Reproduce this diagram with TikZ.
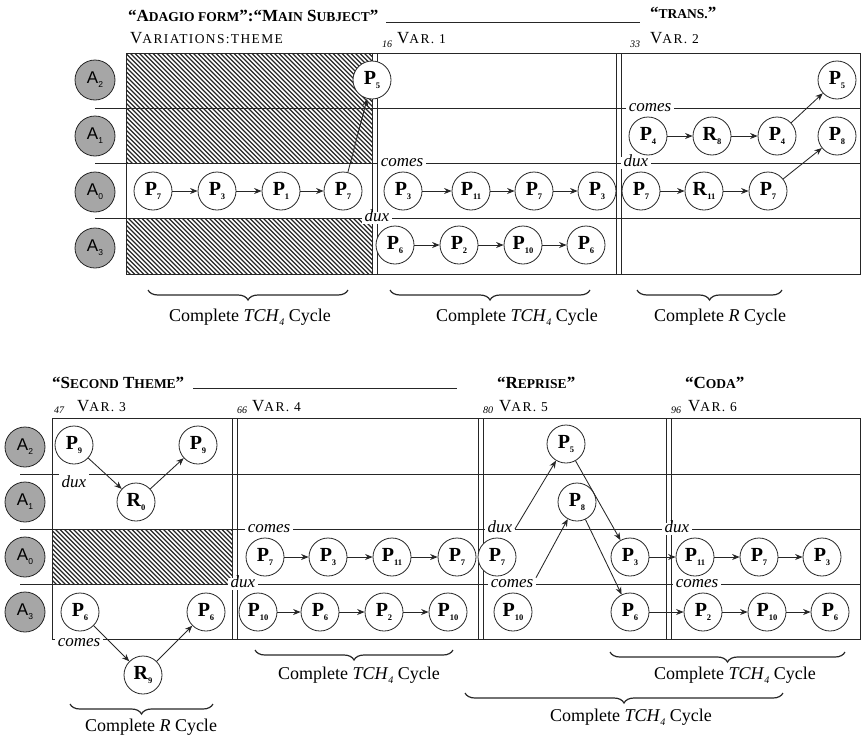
\documentclass[tikz,border=0pt]{standalone}
\usepackage{fontspec}
\setmainfont{Liberation Serif}
\newfontfamily\hdrfont{Liberation Serif}[LetterSpace=10]
\newfontfamily\asans{Liberation Sans}
\usetikzlibrary{arrows.meta,decorations.pathreplacing}
\newcommand\mkP[2]{\textbf{#1}\raisebox{-0.45ex}{\fontsize{8.5}{8.5}\selectfont\bfseries #2}}
\newcommand\mkA[1]{A\raisebox{-0.45ex}{\fontsize{8.5}{8.5}\selectfont #1}}
\newcommand\tchfour{\textit{TCH}\raisebox{-0.45ex}{\fontsize{10}{10}\selectfont\itshape 4}}
\newcommand\hB[1]{{\fontsize{17}{17}\selectfont #1}}
\newcommand\hS[1]{{\fontsize{13.5}{13.5}\selectfont #1}}
\tikzset{
  frame/.style={line width=0.9pt, draw=black!85},
  hatchl/.style={line width=1.1pt, draw=black!85},
  pn/.style={circle, draw=black!85, fill=white, line width=0.8pt, minimum size=38pt, inner sep=0pt, font=\fontsize{20}{20}\selectfont},
  an/.style={circle, draw=black!85, fill=gray!70, line width=0.8pt, minimum size=40pt, inner sep=0pt, font=\asans\fontsize{17}{17}\selectfont},
  lab/.style={fill=white, inner sep=2.5pt, text height=7pt, text depth=0pt, font=\itshape\fontsize{17}{17}\selectfont},
  arr/.style={-{Stealth[length=7.5pt,width=6pt]}, line width=0.85pt, draw=black!85},
  hdr/.style={anchor=base west, inner sep=0pt, font=\hdrfont\fontsize{17}{17}\selectfont},
  hdrb/.style={anchor=base west, inner sep=0pt, font=\bfseries\fontsize{17}{17}\selectfont},
  barno/.style={anchor=base west, inner sep=0pt, font=\itshape\fontsize{10}{10}\selectfont},
  cyc/.style={inner sep=0pt, font=\fontsize{18}{18}\selectfont},
  brc/.style={decorate, decoration={brace, amplitude=10pt, mirror}, line width=1.2pt, draw=black!85}
}
\begin{document}
\begin{tikzpicture}[x=1pt,y=-1pt]
\useasboundingbox (0,0) rectangle (861,739);
% ---------------- TOP SYSTEM ----------------
\begin{scope}
  \clip (126,53) rectangle (372,163);
  \foreach \i in {0,...,82} \draw[hatchl] ({13+4.5*\i},53) -- ++(130,130);
\end{scope}
\begin{scope}
  \clip (126,218) rectangle (372,274);
  \foreach \i in {0,...,70} \draw[hatchl] ({70+4.5*\i-5},218) -- ++(70,70);
\end{scope}
\draw[frame] (126,53) rectangle (860,274);
\foreach \y in {108,163,218} \draw[frame] (95,\y) -- (860,\y);
\foreach \x in {372,377,616,621} \draw[frame] (\x,53) -- (\x,274);
% headers
\node[hdrb] (h1) at (128,21) {“\hB{A}\hS{DAGIO FORM}”:“\hB{M}\hS{AIN} \hB{S}\hS{UBJECT}”};
\draw[frame] (386,22) -- (640,22);
\node[hdrb] (h2) at (650,18) {“\hS{TRANS.}”};
\node[hdr] (h3) at (130,43) {\hB{V}\hS{ARIATIONS:THEME}};
\node[barno] (n16) at (382,47) {16};
\node[hdr] (v1) at (397,43) {\hB{V}\hS{AR. 1}};
\node[barno] (n33) at (630,47) {33};
\node[hdr] (v2) at (650,43) {\hB{V}\hS{AR. 2}};
% line labels
\node[lab] (tc1) at (650,108) {comes};
\node[lab] (tc2) at (402,163) {comes};
\node[lab] (td1) at (636,163) {dux};
\node[lab] (td2) at (377,218) {dux};
% A circles
\node[an] (tA2) at (95,80) {\mkA{2}};
\node[an] (tA1) at (95,136) {\mkA{1}};
\node[an] (tA0) at (95,192) {\mkA{0}};
\node[an] (tA3) at (95,248) {\mkA{3}};
% nodes
\node[pn] (t5a) at (372,80) {\mkP{P}{5}};
\node[pn] (t7a) at (153,191) {\mkP{P}{7}};
\node[pn] (t3a) at (217,191) {\mkP{P}{3}};
\node[pn] (t1a) at (281,191) {\mkP{P}{1}};
\node[pn] (t7b) at (343,191) {\mkP{P}{7}};
\node[pn] (t3b) at (403,191) {\mkP{P}{3}};
\node[pn] (t11a) at (471,191) {\mkP{P}{11}};
\node[pn] (t7c) at (534,191) {\mkP{P}{7}};
\node[pn] (t3c) at (597,191) {\mkP{P}{3}};
\node[pn] (t7d) at (641,191) {\mkP{P}{7}};
\node[pn] (tr11) at (704,191) {\mkP{R}{11}};
\node[pn] (t7e) at (768,191) {\mkP{P}{7}};
\node[pn] (t4a) at (648,136) {\mkP{P}{4}};
\node[pn] (tr8) at (712,136) {\mkP{R}{8}};
\node[pn] (t4b) at (777,136) {\mkP{P}{4}};
\node[pn] (t8a) at (837,136) {\mkP{P}{8}};
\node[pn] (t5b) at (837,80) {\mkP{P}{5}};
\node[pn] (t6a) at (395,245) {\mkP{P}{6}};
\node[pn] (t2a) at (459,245) {\mkP{P}{2}};
\node[pn] (t10a) at (523,245) {\mkP{P}{10}};
\node[pn] (t6b) at (586,245) {\mkP{P}{6}};
% arrows
\draw[arr] (t7a) -- (t3a);
\draw[arr] (t3a) -- (t1a);
\draw[arr] (t1a) -- (t7b);
\draw[arr] (t7b) -- (t5a);
\draw[arr] (t3b) -- (t11a);
\draw[arr] (t11a) -- (t7c);
\draw[arr] (t7c) -- (t3c);
\draw[arr] (t7d) -- (tr11);
\draw[arr] (tr11) -- (t7e);
\draw[arr] (t7e) -- (t8a);
\draw[arr] (t4a) -- (tr8);
\draw[arr] (tr8) -- (t4b);
\draw[arr] (t4b) -- (t5b);
\draw[arr] (t6a) -- (t2a);
\draw[arr] (t2a) -- (t10a);
\draw[arr] (t10a) -- (t6b);
% braces
\draw[brc] (148,290) -- (348,290);
\node[cyc] (tb1) at (250,317) {Complete \tchfour{} Cycle};
\draw[brc] (390,290) -- (590,290);
\node[cyc] (tb2) at (517,317) {Complete \tchfour{} Cycle};
\draw[brc] (637,290) -- (782,290);
\node[cyc] (tb3) at (720,317) {Complete \textit{R} Cycle};
% ---------------- BOTTOM SYSTEM ----------------
\begin{scope}
  \clip (52,529) rectangle (232,584);
  \foreach \i in {0,...,55} \draw[hatchl] ({-8+4.5*\i},529) -- ++(70,70);
\end{scope}
\draw[frame] (52,418) rectangle (860,639);
\foreach \y in {474,529,584} \draw[frame] (20,\y) -- (860,\y);
\foreach \x in {232,237,478,483,666,671} \draw[frame] (\x,418) -- (\x,639);
% headers
\node[hdrb] (h4) at (52,388) {“\hB{S}\hS{ECOND} \hB{T}\hS{HEME}”};
\draw[frame] (193,388) -- (457,388);
\node[hdrb] (h5) at (497,388) {“\hB{R}\hS{EPRISE}”};
\node[hdrb] (h6) at (685,388) {“\hB{C}\hS{ODA}”};
\node[barno] (n47) at (54,413) {47};
\node[hdr] (v3) at (77,411) {\hB{V}\hS{AR. 3}};
\node[barno] (n66) at (237,413) {66};
\node[hdr] (v4) at (252,411) {\hB{V}\hS{AR. 4}};
\node[barno] (n80) at (483,413) {80};
\node[hdr] (v5) at (499,411) {\hB{V}\hS{AR. 5}};
\node[barno] (n96) at (671,413) {96};
\node[hdr] (v6) at (688,411) {\hB{V}\hS{AR. 6}};
% line labels
\node[lab, text height=12pt] (bd1) at (74,481) {dux};
\node[lab] (bc1) at (269,529) {comes};
\node[lab] (bd2) at (243,584) {dux};
\node[lab] (bd3) at (500,529) {dux};
\node[lab] (bc2) at (512,584) {comes};
\node[lab] (bd4) at (677,529) {dux};
\node[lab] (bc3) at (697,584) {comes};
\node[lab] (bc4) at (79,643) {comes};
% A circles
\node[an] (bA2) at (25,447) {\mkA{2}};
\node[an] (bA1) at (25,502) {\mkA{1}};
\node[an] (bA0) at (25,557) {\mkA{0}};
\node[an] (bA3) at (25,612) {\mkA{3}};
% Var 3
\node[pn] (b9a) at (74,445) {\mkP{P}{9}};
\node[pn] (b9b) at (198,445) {\mkP{P}{9}};
\node[pn] (br0) at (136,502) {\mkP{R}{0}};
\node[pn] (b6a) at (80,612) {\mkP{P}{6}};
\node[pn] (b6b) at (206,612) {\mkP{P}{6}};
\node[pn] (br9) at (143,675) {\mkP{R}{9}};
% Var 4
\node[pn] (b7a) at (265,557) {\mkP{P}{7}};
\node[pn] (b3a) at (328,557) {\mkP{P}{3}};
\node[pn] (b11a) at (392,557) {\mkP{P}{11}};
\node[pn] (b7b) at (457,557) {\mkP{P}{7}};
\node[pn] (b10a) at (258,612) {\mkP{P}{10}};
\node[pn] (b6c) at (320,612) {\mkP{P}{6}};
\node[pn] (b2a) at (384,612) {\mkP{P}{2}};
\node[pn] (b10b) at (448,612) {\mkP{P}{10}};
% Var 5
\node[pn] (b5a) at (566,444) {\mkP{P}{5}};
\node[pn] (b8a) at (577,502) {\mkP{P}{8}};
\node[pn] (b7c) at (497,557) {\mkP{P}{7}};
\node[pn] (b3b) at (630,557) {\mkP{P}{3}};
\node[pn] (b10c) at (513,612) {\mkP{P}{10}};
\node[pn] (b6d) at (630,612) {\mkP{P}{6}};
% Var 6
\node[pn] (b11b) at (695,557) {\mkP{P}{11}};
\node[pn] (b7d) at (759,557) {\mkP{P}{7}};
\node[pn] (b3c) at (822,557) {\mkP{P}{3}};
\node[pn] (b2b) at (703,612) {\mkP{P}{2}};
\node[pn] (b10d) at (767,612) {\mkP{P}{10}};
\node[pn] (b6e) at (830,612) {\mkP{P}{6}};
% arrows
\draw[arr] (b9a) -- (br0);
\draw[arr] (br0) -- (b9b);
\draw[arr] (b6a) -- (br9);
\draw[arr] (br9) -- (b6b);
\draw[arr] (b7a) -- (b3a);
\draw[arr] (b3a) -- (b11a);
\draw[arr] (b11a) -- (b7b);
\draw[arr] (b10a) -- (b6c);
\draw[arr] (b6c) -- (b2a);
\draw[arr] (b2a) -- (b10b);
\draw[arr] (bd3.east) -- (b5a);
\draw[arr] (bc2.north east) -- (b8a);
\draw[arr] (b5a) -- (b3b);
\draw[arr] (b8a) -- (b6d);
\draw[arr] (b3b) -- (b11b);
\draw[arr] (b6d) -- (b2b);
\draw[arr] (b11b) -- (b7d);
\draw[arr] (b7d) -- (b3c);
\draw[arr] (b2b) -- (b10d);
\draw[arr] (b10d) -- (b6e);
% braces
\draw[brc] (255,650) -- (453,650);
\node[cyc] (bb1) at (359,675) {Complete \tchfour{} Cycle};
\draw[brc] (610,652) -- (845,652);
\node[cyc] (bb2) at (735,675) {Complete \tchfour{} Cycle};
\draw[brc] (465,693) -- (783,693);
\node[cyc] (bb3) at (631,717) {Complete \tchfour{} Cycle};
\draw[brc] (70,704) -- (213,704);
\node[cyc] (bb4) at (151,727) {Complete \textit{R} Cycle};
\end{tikzpicture}
\end{document}
